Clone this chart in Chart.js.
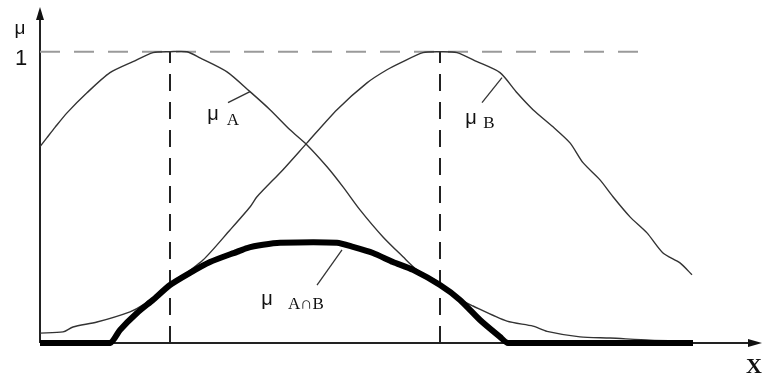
<!doctype html>
<html lang="en">
<head>
  <meta charset="UTF-8">
  <title>Fuzzy set intersection</title>
  <script src="https://cdn.jsdelivr.net/npm/chart.js@4.4.0/dist/chart.umd.min.js"></script>
  <style>
    html, body { margin: 0; padding: 0; background: #fff; }
    .wrap { width: 763px; height: 378px; }
  </style>
</head>
<body>
<div class="wrap"><canvas id="fuzzy"></canvas></div>
<script>
  // universe positions (arbitrary units) and membership grades of A
  const xA  = [0, 0.7, 1.5, 2.7, 4.7, 7.0, 9.3, 11.3, 13, 14.7, 16, 18.7, 21, 23, 25, 26.7, 28.7, 30.3, 32, 34.3, 36.3, 37.7, 40, 42, 43.3, 46.7, 49.3, 50.7, 54, 57, 61, 65];
  const muA = [0.674, 0.705, 0.74, 0.79, 0.859, 0.928, 0.966, 0.997, 1, 1, 0.979, 0.931, 0.863, 0.801, 0.732, 0.68, 0.605, 0.536, 0.457, 0.364, 0.296, 0.251, 0.206, 0.15, 0.127, 0.075, 0.058, 0.04, 0.021, 0.017, 0.01, 0.007];

  // membership grades of B
  const xB  = [0, 2.3, 3.3, 5.7, 9, 10.3, 13, 16.3, 19, 21, 21.7, 24.3, 26.7, 29.7, 32.7, 34.7, 36.3, 38.3, 40, 41.7, 43.7, 46, 47.7, 49.3, 51.3, 53, 54.3, 56, 57.3, 59, 60.7, 62.3, 64, 65.2];
  const muB = [0.034, 0.038, 0.055, 0.072, 0.107, 0.131, 0.199, 0.285, 0.388, 0.467, 0.502, 0.595, 0.687, 0.801, 0.893, 0.938, 0.966, 0.997, 1, 0.997, 0.966, 0.928, 0.859, 0.801, 0.742, 0.687, 0.619, 0.56, 0.502, 0.433, 0.378, 0.309, 0.275, 0.234];

  // intersection A ∩ B
  const xAB  = [0, 7, 8, 9.7, 11.3, 13, 15, 17, 19.7, 20.7, 22.3, 24, 29.7, 31.3, 33.3, 35.3, 37.3, 40, 42, 44, 46, 46.8, 65.3];
  const muAB = [0, 0, 0.045, 0.103, 0.148, 0.199, 0.241, 0.278, 0.313, 0.326, 0.337, 0.344, 0.344, 0.33, 0.309, 0.278, 0.251, 0.199, 0.148, 0.079, 0.021, 0, 0];

  // peaks of A and B, and the end of the grade-1 guide
  const peaks = [13, 40];
  const guideEnd = 61.2;
  const oneTick = 1;

  // label texts with anchor, label and leader points in data units
  const labels = [
    { main: 'μ', sub: 'A',   at: [17.3, 0.784], subAt: [19.3, 0.764], lead: [[18.8, 0.825], [21, 0.863]] },
    { main: 'μ', sub: 'B',   at: [43.1, 0.77],  subAt: [44.9, 0.754], lead: [[44.2, 0.825], [46.2, 0.911]] },
    { main: 'μ', sub: 'A∩B', at: [22.7, 0.15],  subAt: [26.6, 0.131], lead: [[27.7, 0.199], [30.2, 0.32]] }
  ];

  const pts = (xs, ys) => xs.map((x, i) => ({ x: x, y: ys[i] }));

  const guides = [
    {
      data: [{ x: 0, y: oneTick }, { x: guideEnd, y: oneTick }],
      borderColor: '#9a9a9a', borderWidth: 2, borderDash: [20, 14], order: 3
    }
  ].concat(peaks.map(p => ({
    data: [{ x: p, y: 0 }, { x: p, y: oneTick }],
    borderColor: '#222', borderWidth: 2, borderDash: [17, 11], order: 3
  })));

  const axesPlugin = {
    id: 'axes',
    beforeDatasetsDraw(chart) {
      const ctx = chart.ctx;
      const xs = chart.scales.x, ys = chart.scales.y;
      const x0 = xs.getPixelForValue(0), y0 = ys.getPixelForValue(0);
      const xEnd = chart.width - 1, yTop = 7;
      ctx.save();
      ctx.strokeStyle = '#222';
      ctx.fillStyle = '#111';
      ctx.lineWidth = 2;
      ctx.beginPath();
      ctx.moveTo(x0, y0);
      ctx.lineTo(x0, yTop + 8);
      ctx.moveTo(x0, y0);
      ctx.lineTo(xEnd - 8, y0);
      ctx.stroke();
      // arrow heads
      ctx.beginPath();
      ctx.moveTo(x0, yTop);
      ctx.lineTo(x0 - 4, yTop + 13);
      ctx.lineTo(x0 + 4, yTop + 13);
      ctx.closePath();
      ctx.fill();
      ctx.beginPath();
      ctx.moveTo(xEnd, y0);
      ctx.lineTo(xEnd - 14, y0 - 4);
      ctx.lineTo(xEnd - 14, y0 + 4);
      ctx.closePath();
      ctx.fill();
      ctx.restore();
    },
    afterDraw(chart) {
      const ctx = chart.ctx;
      const xs = chart.scales.x, ys = chart.scales.y;
      const px = p => [xs.getPixelForValue(p[0]), ys.getPixelForValue(p[1])];
      const x0 = xs.getPixelForValue(0), y0 = ys.getPixelForValue(0);
      ctx.save();
      ctx.fillStyle = '#111';
      ctx.textAlign = 'center';
      ctx.textBaseline = 'middle';

      ctx.font = '19px "Liberation Sans", Arial, sans-serif';
      ctx.fillText('μ', x0 - 20, 29);
      ctx.font = '22px "Liberation Sans", Arial, sans-serif';
      ctx.fillText(String(oneTick), x0 - 19, ys.getPixelForValue(oneTick) + 7);

      ctx.font = 'bold 22px "Liberation Serif", serif';
      ctx.fillText('X', chart.width - 9, y0 + 24);

      labels.forEach(l => {
        const [mx, my] = px(l.at);
        const [sx, sy] = px(l.subAt);
        ctx.font = '20px "Liberation Sans", Arial, sans-serif';
        ctx.fillText(l.main, mx, my);
        ctx.font = '17px "Liberation Serif", serif';
        ctx.fillText(l.sub, sx, sy);
        const [a, b] = l.lead.map(px);
        ctx.strokeStyle = '#333';
        ctx.lineWidth = 1.3;
        ctx.beginPath();
        ctx.moveTo(a[0], a[1]);
        ctx.lineTo(b[0], b[1]);
        ctx.stroke();
      });
      ctx.restore();
    }
  };

  new Chart(document.getElementById('fuzzy'), {
    type: 'line',
    data: {
      datasets: guides.concat([
        { label: 'μA', data: pts(xA, muA), borderColor: '#333', borderWidth: 1.4, tension: 0.25, order: 2 },
        { label: 'μB', data: pts(xB, muB), borderColor: '#333', borderWidth: 1.4, tension: 0.25, order: 2 },
        { label: 'μA∩B', data: pts(xAB, muAB), borderColor: '#000', borderWidth: 6, tension: 0.2,
          borderJoinStyle: 'round', borderCapStyle: 'butt', order: 1 }
      ])
    },
    options: {
      responsive: true,
      maintainAspectRatio: false,
      animation: false,
      layout: { padding: { left: 40, right: 3, top: 8, bottom: 35 } },
      elements: { point: { radius: 0 }, line: { fill: false } },
      datasets: { line: { clip: false } },
      scales: {
        x: { type: 'linear', min: 0, max: 72, display: false },
        y: { min: 0, max: 1.15, display: false }
      },
      plugins: { legend: { display: false }, tooltip: { enabled: false } }
    },
    plugins: [axesPlugin]
  });
</script>
</body>
</html>
